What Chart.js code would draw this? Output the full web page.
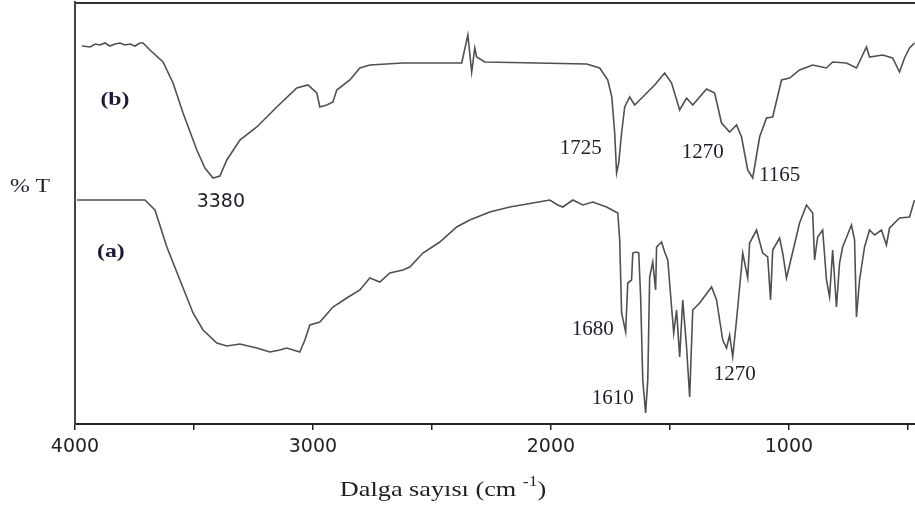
<!DOCTYPE html>
<html>
<head>
<meta charset="utf-8">
<script src="https://cdn.jsdelivr.net/npm/chart.js@4.4.1/dist/chart.umd.min.js"></script>
<style>
  html, body { margin: 0; padding: 0; background: #fff; }
  #wrap { width: 915px; height: 515px; }
</style>
</head>
<body>
<div id="wrap"><canvas id="ir" width="915" height="515"></canvas></div>
<script>
// wavenumber (cm-1) and transmittance (a.u.)
const wnB = [3971, 3936, 3915, 3895, 3874, 3853, 3832, 3811, 3790, 3769, 3748, 3727, 3714, 3685, 3630, 3588, 3546,
  3488, 3454, 3420, 3391, 3362, 3307, 3236, 3152, 3068, 3021, 2984, 2971, 2942, 2916, 2900, 2845, 2803, 2761,
  2622, 2375, 2349, 2333, 2320, 2312, 2278, 2060, 1850, 1795, 1761, 1744, 1732, 1724, 1715, 1703, 1690, 1669,
  1648, 1614, 1564, 1522, 1493, 1459, 1430, 1404, 1346, 1312, 1283, 1249, 1220, 1199, 1173, 1152, 1123, 1094,
  1068, 1031, 997, 955, 900, 842, 816, 758, 716, 674, 661, 606, 564, 535, 514, 493, 472];
const tB = [378, 377, 380, 379, 381, 378, 380, 381, 379, 380, 378, 381, 381, 374, 362, 341, 311,
  274, 256, 246, 248, 264, 284, 297, 317, 336, 339, 331, 317, 319, 322, 334, 344, 356, 359,
  361, 361, 389, 352, 376, 367, 362, 361, 360, 356, 344, 327, 291, 251, 261, 291, 317, 327,
  319, 327, 339, 351, 341, 314, 326, 319, 335, 331, 301, 292, 299, 287, 254, 246, 287, 306,
  307, 344, 346, 354, 359, 356, 362, 361, 356, 377, 367, 369, 366, 352, 366, 376, 381];

const wnA = [3992, 3706, 3664, 3614, 3559, 3504, 3462, 3404, 3362, 3307, 3236, 3181, 3139, 3110, 3055, 3034,
  3013, 2971, 2916, 2858, 2803, 2761, 2719, 2677, 2622, 2593, 2538, 2467, 2396, 2341, 2257, 2173, 2076, 2005,
  1971, 1950, 1908, 1866, 1824, 1766, 1719, 1711, 1703, 1686, 1677, 1661, 1656, 1640, 1631, 1623, 1614, 1602,
  1593, 1585, 1572, 1560, 1556, 1535, 1522, 1509, 1493, 1484, 1472, 1459, 1446, 1430, 1417, 1404, 1375, 1325,
  1304, 1278, 1262, 1249, 1236, 1220, 1199, 1194, 1173, 1165, 1136, 1110, 1089, 1077, 1068, 1039, 1026, 1010,
  989, 955, 926, 900, 892, 879, 858, 842, 829, 816, 800, 787, 774, 737, 724, 716, 703, 682, 661, 640, 611, 590,
  577, 535, 493, 472];
const tA = [224, 224, 214, 177, 144, 111, 94, 81, 78, 80, 76, 72, 74, 76, 72, 84,
  99, 102, 117, 126, 134, 146, 142, 151, 154, 157, 171, 182, 197, 204, 212, 217, 221, 224,
  219, 217, 224, 219, 222, 217, 211, 184, 111, 92, 141, 144, 171, 172, 171, 127, 44, 11,
  44, 147, 162, 134, 177, 182, 172, 164, 117, 91, 114, 67, 124, 77, 27, 114, 121, 137,
  124, 84, 76, 89, 67, 104, 157, 171, 146, 181, 194, 171, 167, 124, 174, 186, 171, 146,
  167, 201, 219, 211, 164, 187, 194, 144, 127, 174, 117, 161, 177, 199, 184, 107, 144, 177, 194, 189, 194, 179,
  196, 206, 207, 224];

const xTickValues = [4000, 3500, 3000, 2500, 2000, 1500, 1000, 500];

const peakText = ['3380', '1725', '1270', '1165', '1680', '1610', '1270'];
const peakWn = [3387, 1875, 1362, 1039, 1824, 1740, 1228];
const peakT = [222, 276, 272, 249, 95, 26, 50];

const traceText = ['(b)', '(a)'];
const traceWn = [3832, 3849];
const traceT = [324, 172];

function stretchText(ctx, text, x, y, sx) {
  ctx.save();
  ctx.translate(x, y);
  ctx.scale(sx, 1);
  ctx.fillText(text, 0, 0);
  ctx.restore();
}

const textPlugin = {
  id: 'irText',
  afterDraw(chart) {
    const { ctx, chartArea, scales } = chart;
    const xs = scales.x, ys = scales.y;
    ctx.save();
    // top frame line
    ctx.strokeStyle = '#333';
    ctx.lineWidth = 2;
    ctx.beginPath();
    ctx.moveTo(chartArea.left, chartArea.top + 1);
    ctx.lineTo(chartArea.right, chartArea.top + 1);
    ctx.stroke();

    ctx.textAlign = 'center';
    ctx.textBaseline = 'middle';

    // trace names
    ctx.fillStyle = '#1c1c3a';
    ctx.font = 'bold 19px "Liberation Serif"';
    traceText.forEach((t, i) => {
      stretchText(ctx, t, xs.getPixelForValue(traceWn[i]), ys.getPixelForValue(traceT[i]), 1.25);
    });

    // peak labels
    ctx.fillStyle = '#1e1e2a';
    peakText.forEach((t, i) => {
      ctx.font = i === 0 ? '19px "DejaVu Sans"' : '21px "Liberation Serif"';
      ctx.fillText(t, xs.getPixelForValue(peakWn[i]), ys.getPixelForValue(peakT[i]));
    });

    // % T
    ctx.font = '19px "Liberation Serif"';
    stretchText(ctx, '% T', chartArea.left - 45, ys.getPixelForValue(237), 1.25);

    // axis title with superscript
    const main = 'Dalga sayısı (cm ';
    const sup = '-1';
    const close = ')';
    const sx = 1.25;
    ctx.textAlign = 'left';
    ctx.textBaseline = 'alphabetic';
    ctx.font = '21px "Liberation Serif"';
    const wMain = ctx.measureText(main).width * sx;
    const wClose = ctx.measureText(close).width * sx;
    ctx.font = '14px "Liberation Serif"';
    const wSup = ctx.measureText(sup).width * sx;
    const total = wMain + wSup + wClose;
    let x0 = chartArea.left + 368 - total / 2;
    const base = chartArea.bottom + 72;
    ctx.fillStyle = '#1e1e1e';
    ctx.font = '21px "Liberation Serif"';
    stretchText(ctx, main, x0, base, sx);
    ctx.font = '14px "Liberation Serif"';
    stretchText(ctx, sup, x0 + wMain, base - 10, sx);
    ctx.font = '21px "Liberation Serif"';
    stretchText(ctx, close, x0 + wMain + wSup, base, sx);
    ctx.restore();
  }
};

new Chart(document.getElementById('ir'), {
  type: 'line',
  data: {
    datasets: [
      {
        label: '(b)',
        data: wnB.map((w, i) => ({ x: w, y: tB[i] })),
        borderColor: '#505050',
        borderWidth: 1.6,
        pointRadius: 0,
        tension: 0,
        fill: false
      },
      {
        label: '(a)',
        data: wnA.map((w, i) => ({ x: w, y: tA[i] })),
        borderColor: '#505050',
        borderWidth: 1.6,
        pointRadius: 0,
        tension: 0,
        fill: false
      }
    ]
  },
  options: {
    responsive: false,
    animation: false,
    layout: { padding: { top: 2, right: 0, left: 0, bottom: 0 } },
    plugins: { legend: { display: false }, tooltip: { enabled: false } },
    scales: {
      x: {
        type: 'linear',
        reverse: true,
        min: 470,
        max: 4000,
        afterBuildTicks: s => { s.ticks = xTickValues.map(v => ({ value: v })); },
        afterFit: s => { s.height = 91; },
        ticks: {
          autoSkip: false,
          maxRotation: 0,
          padding: 6,
          color: '#222',
          font: { family: 'DejaVu Sans', size: 19 },
          callback: v => (v % 1000 === 0 ? String(v) : '')
        },
        grid: { drawOnChartArea: false, color: '#222', lineWidth: 1.5, tickLength: 6 },
        border: { color: '#222', width: 2 }
      },
      y: {
        min: 0,
        max: 422,
        afterFit: s => { s.width = 75; },
        ticks: { display: false },
        grid: { display: false },
        border: { color: '#444', width: 2 }
      }
    }
  },
  plugins: [textPlugin]
});
</script>
</body>
</html>
